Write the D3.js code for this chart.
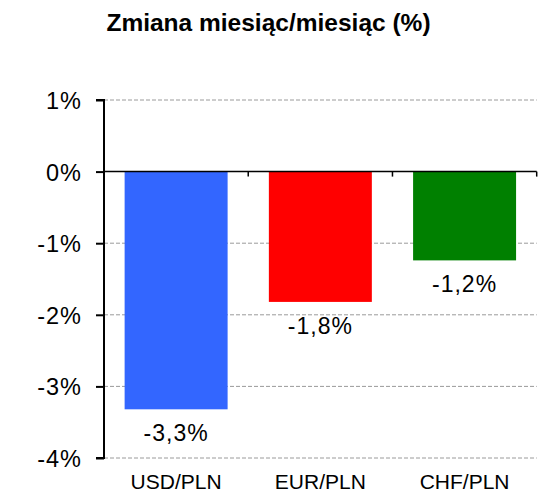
<!DOCTYPE html>
<html>
<head>
<meta charset="utf-8">
<script src="https://cdn.jsdelivr.net/npm/d3@7"></script>
<style>
  html, body { margin: 0; padding: 0; background: #fff; }
  text { font-family: "Liberation Sans", Arial, sans-serif; fill: #000; }
</style>
</head>
<body>
<svg id="chart" width="545" height="498"></svg>
<script>
// Month-on-month change of PLN exchange rates, in percent
const categories = ["USD/PLN", "EUR/PLN", "CHF/PLN"];
const values = [-3.32, -1.82, -1.24];
const colors = ["#3366FF", "#FF0000", "#008000"];
const yTicks = [1, 0, -1, -2, -3, -4];
const title = "Zmiana miesiąc/miesiąc (%)";

const svg = d3.select("#chart");
const plotLeft = 104, plotRight = 536.7, plotTop = 100, plotBottom = 458;

const x = d3.scaleBand()
  .domain(categories)
  .range([plotLeft, plotRight])
  .paddingInner(0.286)
  .paddingOuter(0.143);

const y = d3.scaleLinear().domain([-4, 1]).range([plotBottom, plotTop]);

const fmt = v => d3.format(".1f")(v).replace(".", ",").replace("−", "-") + "%";
const fmtTick = v => d3.format("d")(v).replace("−", "-") + "%";

// title
svg.append("text")
  .attr("x", 268.5).attr("y", 31)
  .attr("text-anchor", "middle")
  .style("font-size", "24.5px").style("font-weight", "bold")
  .text(title);

// dashed gridlines
svg.append("g").selectAll("line")
  .data(yTicks.filter(t => t !== 0))
  .join("line")
  .attr("x1", plotLeft).attr("x2", plotRight)
  .attr("y1", d => y(d)).attr("y2", d => y(d))
  .attr("stroke", "#9a9a9a").attr("stroke-width", 1)
  .attr("stroke-dasharray", "4,2");

// bars
svg.append("g").selectAll("rect")
  .data(categories)
  .join("rect")
  .attr("x", d => x(d))
  .attr("width", x.bandwidth())
  .attr("y", (d, i) => Math.min(y(0), y(values[i])))
  .attr("height", (d, i) => Math.abs(y(values[i]) - y(0)))
  .attr("fill", (d, i) => colors[i]);

// value labels
svg.append("g").selectAll("text")
  .data(categories)
  .join("text")
  .attr("x", d => x(d) + x.bandwidth() / 2)
  .attr("y", (d, i) => y(values[i]) + 32)
  .attr("text-anchor", "middle")
  .style("font-size", "23px").style("letter-spacing", "1px")
  .text((d, i) => fmt(values[i]));

// y axis
const yAxis = d3.axisLeft(y)
  .tickValues(yTicks)
  .tickSize(8)
  .tickPadding(14)
  .tickFormat(fmtTick);
const gy = svg.append("g")
  .attr("transform", `translate(${plotLeft},0)`)
  .call(yAxis);
gy.attr("font-family", null).attr("font-size", null);
gy.select(".domain").attr("stroke", "#000").attr("stroke-width", 2)
  .attr("d", `M-8,${plotTop}H0V${plotBottom}H-8`);
gy.selectAll(".tick line").attr("stroke", "#000").attr("stroke-width", 2);
gy.selectAll(".tick text")
  .style("font-size", "23.5px").style("letter-spacing", "1px")
  .attr("dy", "0.36em");

// zero baseline with category separators
const xAxis = d3.axisBottom(x).tickSize(0).tickFormat("");
const gz = svg.append("g")
  .attr("transform", `translate(0,${y(0)})`)
  .call(xAxis);
gz.select(".domain").attr("stroke", "#000").attr("stroke-width", 1.5)
  .attr("d", `M${plotLeft},0H${plotRight}`);
gz.selectAll(".tick").remove();
const step = x.step();
gz.selectAll("line.sep")
  .data(categories)
  .join("line")
  .attr("class", "sep")
  .attr("x1", d => x(d) - step * x.paddingOuter() + step)
  .attr("x2", d => x(d) - step * x.paddingOuter() + step)
  .attr("y1", 0).attr("y2", 5)
  .attr("stroke", "#000").attr("stroke-width", 1.5);

// category labels
svg.append("g").selectAll("text")
  .data(categories)
  .join("text")
  .attr("x", d => x(d) + x.bandwidth() / 2)
  .attr("y", 489)
  .attr("text-anchor", "middle")
  .style("font-size", "21px")
  .text(d => d);
</script>
</body>
</html>
